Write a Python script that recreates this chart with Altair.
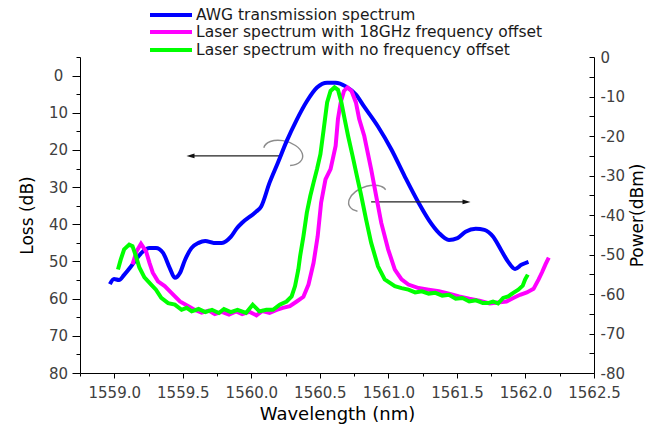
import altair as alt
import pandas as pd

FONT = "DejaVu Sans"

series_names = [
    "AWG transmission spectrum",
    "Laser spectrum with 18GHz frequency offset",
    "Laser spectrum with no frequency offset",
]
series_colors = ["#0000FF", "#FF00FF", "#00FF00"]

# AWG transmission (left axis, Loss in dB)
awg_wl = [1558.968, 1558.998, 1559.035, 1559.072, 1559.119, 1559.156, 1559.207, 1559.257, 1559.304, 1559.356,
          1559.405, 1559.442, 1559.479, 1559.516, 1559.563, 1559.615, 1559.664, 1559.726, 1559.785, 1559.850,
          1559.896, 1559.933, 1560.035, 1560.072, 1560.133, 1560.193, 1560.257, 1560.331, 1560.405, 1560.479,
          1560.553, 1560.615, 1560.689, 1560.763, 1560.822, 1560.924, 1561.022, 1561.119, 1561.220, 1561.294,
          1561.368, 1561.442, 1561.504, 1561.563, 1561.637, 1561.701, 1561.763, 1561.822, 1561.874, 1561.924,
          1561.970, 1562.022]
awg_loss = [56.1, 54.7, 55.0, 53.6, 51.5, 49.6, 47.4, 46.4, 46.4, 47.7,
            51.8, 54.4, 53.1, 49.6, 46.4, 45.0, 44.5, 45.0, 45.0, 43.4,
            41.0, 39.6, 36.6, 35.2, 28.8, 23.5, 17.7, 11.9, 6.9, 3.2,
            1.9, 1.9, 2.9, 5.1, 8.3, 13.7, 19.9, 27.1, 34.2, 38.8,
            42.3, 44.2, 43.7, 42.0, 41.2, 41.5, 43.3, 46.9, 50.1, 52.0,
            50.9, 50.1]

# Laser with 18 GHz offset (right axis, Power in dBm)
off18_wl = [1559.133, 1559.163, 1559.195, 1559.232, 1559.257, 1559.281, 1559.319, 1559.368, 1559.417, 1559.479,
            1559.541, 1559.585, 1559.637, 1559.689, 1559.733, 1559.785, 1559.837, 1559.889, 1559.933, 1559.985,
            1560.037, 1560.081, 1560.133, 1560.185, 1560.230, 1560.281, 1560.331, 1560.380, 1560.417, 1560.454,
            1560.484, 1560.509, 1560.541, 1560.578, 1560.615, 1560.632, 1560.652, 1560.676, 1560.701, 1560.731,
            1560.763, 1560.787, 1560.824, 1560.874, 1560.911, 1560.948, 1560.998, 1561.047, 1561.096, 1561.146,
            1561.220, 1561.294, 1561.368, 1561.442, 1561.516, 1561.590, 1561.664, 1561.739, 1561.813, 1561.861,
            1561.911, 1561.961, 1562.010, 1562.059, 1562.096, 1562.121, 1562.146, 1562.170]
off18_power = [-52.5, -49.2, -47.3, -49.2, -52.1, -54.6, -56.8, -58.0, -59.7, -61.9,
               -63.1, -64.0, -64.7, -64.2, -65.1, -64.5, -65.2, -64.4, -65.1, -64.5,
               -65.4, -64.3, -64.8, -64.0, -63.5, -63.1, -61.9, -60.7, -57.6, -52.1,
               -45.4, -36.9, -31.0, -28.4, -22.5, -15.7, -11.5, -8.6, -7.7, -8.6,
               -11.5, -15.7, -20.0, -28.4, -35.2, -42.0, -48.7, -53.8, -56.3, -57.6,
               -58.5, -58.9, -59.3, -59.9, -60.6, -61.2, -61.7, -62.4, -62.1, -61.9,
               -61.0, -60.2, -59.6, -58.7, -56.3, -54.5, -52.5, -50.8]

# Laser with no offset (right axis, Power in dBm)
off0_wl = [1559.027, 1559.047, 1559.072, 1559.109, 1559.133, 1559.158, 1559.183, 1559.220, 1559.269, 1559.304,
           1559.343, 1559.393, 1559.442, 1559.491, 1559.528, 1559.565, 1559.615, 1559.664, 1559.713, 1559.763,
           1559.800, 1559.850, 1559.899, 1559.961, 1560.010, 1560.059, 1560.109, 1560.158, 1560.207, 1560.257,
           1560.294, 1560.319, 1560.343, 1560.356, 1560.380, 1560.405, 1560.430, 1560.454, 1560.479, 1560.504,
           1560.528, 1560.553, 1560.578, 1560.607, 1560.632, 1560.657, 1560.681, 1560.706, 1560.739, 1560.770,
           1560.800, 1560.837, 1560.874, 1560.924, 1560.973, 1561.047, 1561.096, 1561.146, 1561.195, 1561.244,
           1561.294, 1561.343, 1561.393, 1561.442, 1561.491, 1561.541, 1561.590, 1561.639, 1561.689, 1561.726,
           1561.763, 1561.800, 1561.837, 1561.874, 1561.911, 1561.948, 1561.980, 1561.998, 1562.017]
off0_power = [-53.8, -51.3, -48.7, -47.5, -47.9, -50.4, -53.3, -55.8, -57.6, -58.9,
              -61.0, -62.3, -62.7, -64.0, -63.5, -64.4, -63.8, -64.6, -64.0, -64.8,
              -63.8, -64.6, -64.0, -64.8, -62.7, -64.4, -64.0, -64.0, -62.7, -61.9,
              -60.6, -58.0, -53.8, -50.4, -45.4, -39.4, -35.2, -31.8, -28.4, -24.6,
              -18.3, -11.5, -8.6, -7.7, -8.3, -11.5, -15.7, -20.0, -25.1, -30.1,
              -34.8, -41.1, -47.0, -53.0, -56.3, -58.0, -58.5, -58.9, -59.6, -59.3,
              -59.9, -59.7, -60.4, -60.2, -61.2, -61.0, -61.9, -61.6, -62.3, -62.3,
              -61.9, -62.4, -61.0, -60.6, -59.7, -58.9, -57.9, -56.3, -55.1]

# tick positions
x_ticks = [1558.75, 1559.0, 1559.25, 1559.5, 1559.75, 1560.0, 1560.25, 1560.5, 1560.75,
           1561.0, 1561.25, 1561.5, 1561.75, 1562.0, 1562.25, 1562.5]
loss_ticks = [-5, 0, 5, 10, 15, 20, 25, 30, 35, 40, 45, 50, 55, 60, 65, 70, 75, 80]
power_ticks = [-80, -75, -70, -65, -60, -55, -50, -45, -40, -35, -30, -25, -20, -15, -10, -5, 0]

# annotations: arrow (tail, head) and ring position, in data units
loss_arrow_wl = [1560.22, 1559.556]
loss_arrow_val = 21.6
loss_ring = (1560.232, 20.8)
power_arrow_wl = [1560.874, 1561.570]
power_arrow_val = -36.7
power_ring = (1560.85, -35.8)

X_DOMAIN = [1558.75, 1562.5]
xscale = alt.Scale(domain=X_DOMAIN, nice=False, zero=False)

is_half = "abs(datum.value*2 - round(datum.value*2)) < 0.01"
x_axis = alt.Axis(
    values=x_ticks,
    labelExpr=f"{is_half} ? format(datum.value, '.1f') : ''",
    tickSize={"condition": {"test": is_half, "value": 5}, "value": 3},
    title="Wavelength (nm)", grid=False,
    domainColor="black", tickColor="black", domainWidth=1, tickWidth=1,
    labelFont=FONT, labelFontSize=15, labelColor="#404040", labelPadding=7,
    labelFlush=False, labelOverlap=False,
    titleFont=FONT, titleFontSize=18, titleFontWeight="normal", titleColor="black", titlePadding=5,
)
loss_axis = alt.Axis(
    orient="left", values=loss_ticks,
    labelExpr="datum.value % 10 === 0 && datum.value >= 0 ? '' + datum.value : ''",
    tickSize={"condition": {"test": "datum.value % 10 === 0", "value": 8}, "value": 4},
    title="Loss (dB)", grid=False,
    domainColor="black", tickColor="black", domainWidth=1, tickWidth=1,
    labelFont=FONT, labelFontSize=15, labelColor="#404040", labelPadding=14, labelAlign="center",
    labelFlush=False, labelOverlap=False,
    titleFont=FONT, titleFontSize=17, titleFontWeight="normal", titleColor="black", titlePadding=12,
)
power_axis = alt.Axis(
    orient="right", values=power_ticks,
    labelExpr="datum.value % 10 === 0 ? '' + datum.value : ''",
    tickSize=alt.ExprRef(expr="-5"),
    title="Power(dBm)", titleAngle=270, grid=False,
    domainColor="black", tickColor="black", domainWidth=1, tickWidth=1,
    labelFont=FONT, labelFontSize=15, labelColor="#404040", labelPadding=11,
    labelFlush=False, labelOverlap=False,
    titleFont=FONT, titleFontSize=17, titleFontWeight="normal", titleColor="black", titlePadding=22,
)
loss_y = lambda: alt.Y("loss:Q", scale=alt.Scale(domain=[-5, 80], reverse=True, nice=False, zero=False), axis=loss_axis)
power_y = lambda: alt.Y("power:Q", scale=alt.Scale(domain=[-80, 0], nice=False, zero=False), axis=power_axis)
xq = lambda: alt.X("wl:Q", scale=xscale, axis=x_axis)

LEFT_RING = "M -0.966 -0.259 A 1 0.6 15 1 1 0.348 0.631"
RIGHT_RING = "M 0.890 -0.435 A 1 0.6 -20 1 0 -0.519 0.641"
HEAD_LEFT = "M -1 0 L 1 -0.6 L 1 0.6 Z"
HEAD_RIGHT = "M 1 0 L -1 -0.6 L -1 0.6 Z"

# ---- Loss group
awg_df = pd.DataFrame({"wl": awg_wl, "loss": awg_loss})
la_df = pd.DataFrame({"wl": [loss_arrow_wl[0]], "wl2": [loss_arrow_wl[1]], "loss": [loss_arrow_val]})
lh_df = pd.DataFrame({"wl": [loss_arrow_wl[1]], "loss": [loss_arrow_val]})
lr_df = pd.DataFrame({"wl": [loss_ring[0]], "loss": [loss_ring[1]]})

loss_group = alt.layer(
    alt.Chart(la_df).mark_rule(color="#222222", strokeWidth=1.2).encode(x=xq(), x2="wl2:Q", y=loss_y()),
    alt.Chart(lh_df).mark_point(shape=HEAD_LEFT, filled=True, color="#111111", size=64, opacity=1).encode(x=xq(), y=loss_y()),
    alt.Chart(lr_df).mark_point(shape=LEFT_RING, filled=False, color="#8c8c8c", strokeWidth=1.4, size=1600, opacity=1).encode(x=xq(), y=loss_y()),
    alt.Chart(awg_df).mark_line(color=series_colors[0], strokeWidth=4, interpolate="monotone").encode(x=xq(), y=loss_y()),
)

# ---- Power group
m_df = pd.DataFrame({"wl": off18_wl, "power": off18_power})
g_df = pd.DataFrame({"wl": off0_wl, "power": off0_power})
pa_df = pd.DataFrame({"wl": [power_arrow_wl[0]], "wl2": [power_arrow_wl[1]], "power": [power_arrow_val]})
ph_df = pd.DataFrame({"wl": [power_arrow_wl[1]], "power": [power_arrow_val]})
pr_df = pd.DataFrame({"wl": [power_ring[0]], "power": [power_ring[1]]})

power_group = alt.layer(
    alt.Chart(pr_df).mark_point(shape=RIGHT_RING, filled=False, color="#8c8c8c", strokeWidth=1.4, size=1600, opacity=1).encode(x=xq(), y=power_y()),
    alt.Chart(pa_df).mark_rule(color="#222222", strokeWidth=1.2).encode(x=xq(), x2="wl2:Q", y=power_y()),
    alt.Chart(ph_df).mark_point(shape=HEAD_RIGHT, filled=True, color="#111111", size=64, opacity=1).encode(x=xq(), y=power_y()),
    alt.Chart(m_df).mark_line(color=series_colors[1], strokeWidth=4).encode(x=xq(), y=power_y()),
    alt.Chart(g_df).mark_line(color=series_colors[2], strokeWidth=4).encode(x=xq(), y=power_y()),
)

# ---- Legend (drawn above the plot area)
legend_rows_y = [-42, -25, -7]
legend_layers = []
for name, col, yy in zip(series_names, series_colors, legend_rows_y):
    ldf = pd.DataFrame({"label": [name]})
    legend_layers.append(
        alt.Chart(ldf).mark_rule(color=col, strokeWidth=4).encode(
            x=alt.value(70), x2=alt.value(112), y=alt.value(yy))
    )
    legend_layers.append(
        alt.Chart(ldf).mark_text(align="left", baseline="middle", font=FONT, fontSize=15.5, color="#1a1a1a").encode(
            x=alt.value(116), y=alt.value(yy), text="label:N")
    )

chart = alt.layer(loss_group, power_group, *legend_layers).resolve_scale(y="independent").properties(
    width=514, height=316,
    autosize=alt.AutoSizeParams(type="none"),
    padding={"left": 80, "top": 57, "right": 57, "bottom": 54},
    background="white",
).configure_view(strokeWidth=0)

chart.save("out.html", embed_options={"renderer": "svg", "actions": False})
